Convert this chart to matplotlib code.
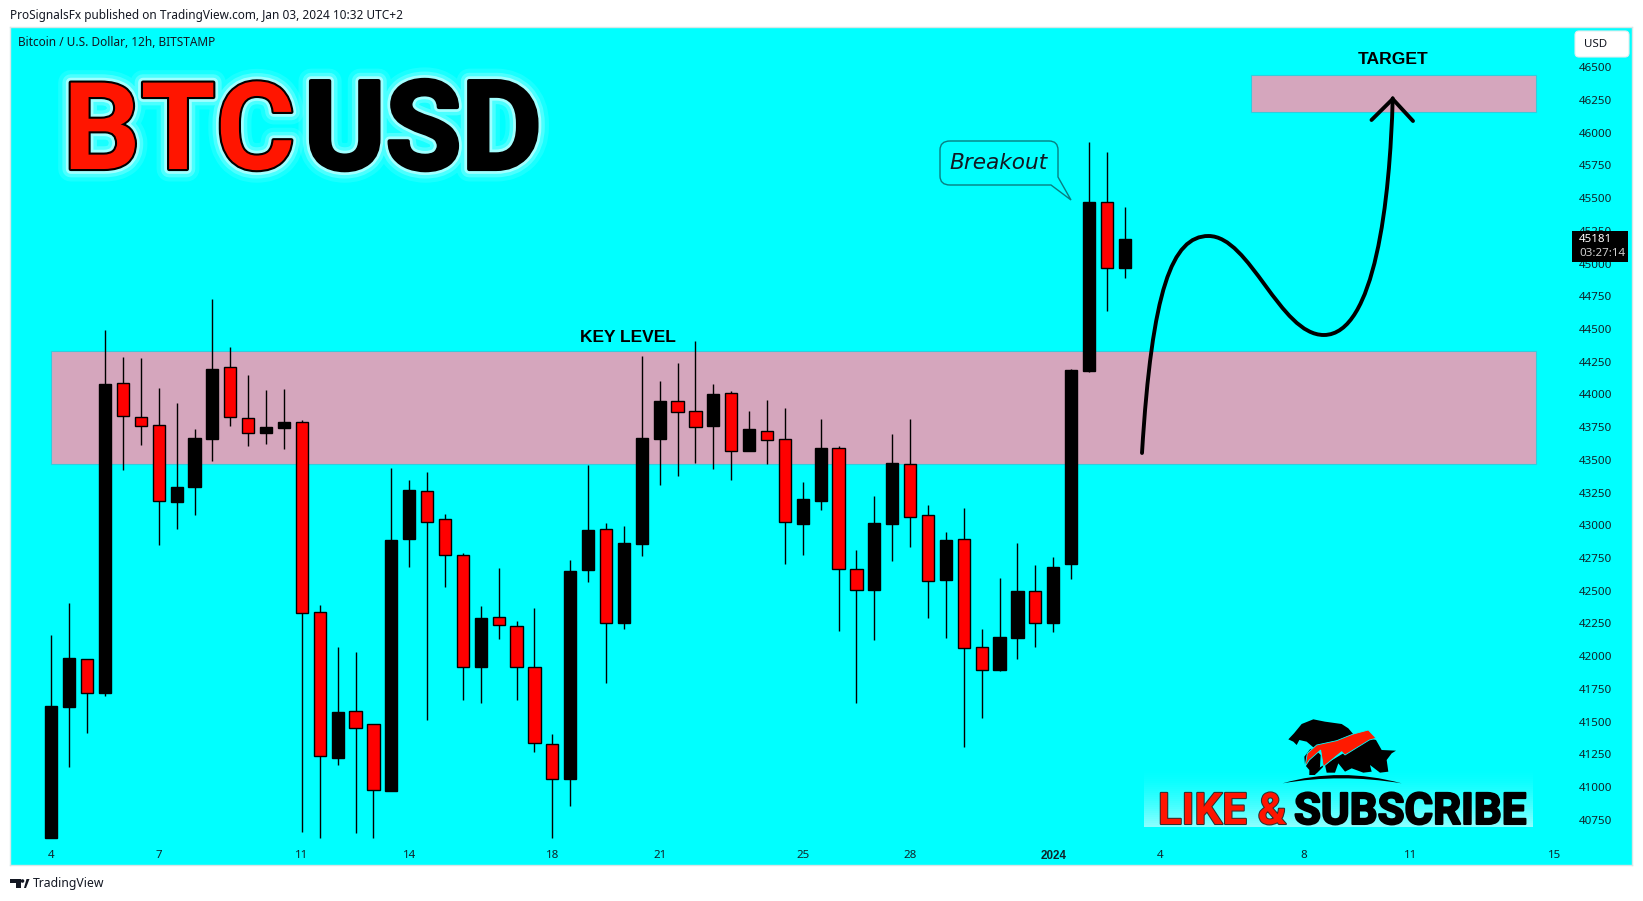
import matplotlib
matplotlib.use("Agg")
import matplotlib.pyplot as plt
import matplotlib.patheffects as pe
from matplotlib.patches import Rectangle, FancyBboxPatch, PathPatch, Polygon, Circle
from matplotlib.path import Path
from matplotlib.transforms import Affine2D, ScaledTranslation

W, H = 1643, 901

opens = [40608,41611,41973,41716,44081,43821,43759,43174,43287,43655,44203,43813,43703,43739,43782,42337,
         41221,41574,41475,40969,42894,43262,43041,42773,41916,42292,42224,41911,41328,41060,42657,42965,
         42253,42855,43655,43943,43867,43753,44005,43567,43720,43652,43007,43185,43584,42665,42504,43007,
         43462,43078,42580,42889,42063,41894,42137,42498,42253,42702,44177,45464,44965]
highs = [42157,42402,41973,44488,44282,44274,44045,43929,43731,44726,44358,44144,44030,44036,43801,42385,
         42066,42026,41475,43434,43341,43403,43081,42784,42380,42668,42264,42363,41402,42730,43457,43013,
         42990,44291,44098,44237,44404,44076,44022,43869,43954,43892,43327,43807,43601,42807,43219,43694,
         43807,43151,42948,43129,42202,42592,42860,42693,42753,44192,45925,45848,45428]
lows = [40608,41150,41410,41693,43420,43612,42849,42970,43078,43491,43756,43604,43621,43581,40656,40608,
        41167,40647,40608,40969,42679,41506,42527,41665,41639,42128,41665,41266,40608,40853,42566,41795,
        42205,42764,43307,43375,43474,43428,43344,43567,43468,42702,42773,43115,42190,41639,42122,42725,
        42832,42289,42137,41303,41526,41885,41976,42069,42182,42589,44166,44636,44888]
closes = [41614,41981,41718,44076,43833,43756,43185,43287,43663,44189,43827,43703,43748,43785,42329,41235,
          41568,41450,40975,42883,43264,43024,42773,41916,42286,42236,41916,41334,41060,42645,42959,42253,
          42860,43663,43946,43864,43751,44000,43567,43731,43649,43024,43197,43587,42665,42504,43013,43471,
          43061,42572,42883,42060,41888,42142,42493,42253,42677,44183,45466,44965,45184]

price_ticks = [40750,41000,41250,41500,41750,42000,42250,42500,42750,43000,43250,43500,43750,44000,44250,
               44500,44750,45000,45250,45500,45750,46000,46250,46500]
date_positions = [0,6,14,20,28,34,42,48,56,62,70,76,84]
date_labels = ["4","7","11","14","18","21","25","28","2024","4","8","11","15"]

key_zone = (0.0, 83.0, 43466, 44325)
target_zone = (67.04, 83.0, 46154, 46439)
last_price = 45181
countdown = "03:27:14"

CYAN = "#00ffff"
ZONE = "#d5a6bd"
RED = "#ff0000"
FONT = "Noto Sans"
BOLD = "Liberation Sans"

fig = plt.figure(figsize=(W/100, H/100), dpi=100, facecolor="white")
ax = fig.add_axes([10/W, 1-865/H, (1632-10)/W, (865-27)/H], facecolor=CYAN)
DX = 17.89
ax.set_xlim((10-51.4)/DX, (1632-51.4)/DX)
ax.set_ylim(46500-(865-66.7)*7.64, 46500+(66.7-27)*7.64)
for s in ax.spines.values():
    s.set_color("#d9e6e6"); s.set_linewidth(1)

PX = Affine2D().scale(1/W, -1/H).translate(0, 1) + fig.transFigure

for x0, x1, y0, y1 in (key_zone, target_zone):
    ax.add_patch(Rectangle((x0, y0), x1-x0, y1-y0, fc=ZONE, ec="#33ccdd", lw=0.8, zorder=1))

xs = list(range(len(opens)))
cols = ["black" if c >= o else RED for o, c in zip(opens, closes)]
ax.vlines(xs, lows, highs, color="black", lw=1.0, zorder=2)
ax.bar(xs, [abs(c-o) for o, c in zip(opens, closes)], bottom=[min(o, c) for o, c in zip(opens, closes)],
       width=0.68, color=cols, edgecolor="black", linewidth=1.0, zorder=3)

ax.yaxis.tick_right()
ax.set_yticks(price_ticks)
ax.set_yticklabels([str(p) for p in price_ticks], fontfamily=FONT, fontsize=8.3, color="#10242a")
ax.tick_params(axis="y", length=0, pad=-38)
shift = ScaledTranslation(0, -0.5/100, fig.dpi_scale_trans)
for t in ax.get_yticklabels():
    t.set_transform(t.get_transform() + shift)
ax.set_xticks(date_positions)
ax.set_xticklabels(date_labels, fontfamily=FONT, fontsize=8.3, color="#10242a")
ax.tick_params(axis="x", length=0, pad=-11)
for t in ax.get_xticklabels():
    if t.get_text() == "2024":
        t.set_fontfamily(BOLD); t.set_fontweight("bold"); t.set_fontsize(8.4)

def T(x, y, s, **kw):
    kw.setdefault("family", FONT)
    kw.setdefault("transform", PX)
    kw.setdefault("va", "center")
    kw.setdefault("clip_on", False)
    return fig.text(x, y, s, **kw)

T(10, 15, "ProSignalsFx published on TradingView.com, Jan 03, 2024 10:32 UTC+2", fontsize=8.5, color="#131722")
T(18, 42, "Bitcoin / U.S. Dollar, 12h, BITSTAMP", fontsize=8.5, color="#131722")
T(33, 884, "TradingView", fontsize=8.8, color="#131722")
DARK = "#131722"
fig.add_artist(Polygon([(10,879),(21,879),(21,888),(16,888),(16,883),(10,883)], closed=True, fc=DARK, ec="none", transform=PX))
fig.add_artist(Circle((22.5,881), 1.8, fc=DARK, ec="none", transform=PX))
fig.add_artist(Polygon([(24,888),(26,888),(29.5,879),(26.5,879)], closed=True, fc=DARK, ec="none", transform=PX))

glow = [pe.withStroke(linewidth=18, foreground="#ffffff", alpha=0.10),
        pe.withStroke(linewidth=12, foreground="#ffffff", alpha=0.22),
        pe.withStroke(linewidth=7, foreground="#e8ffff", alpha=0.55),
        pe.withStroke(linewidth=3, foreground="black")]
T(63, 169, "BTC", fontsize=87.5, family="Roboto", fontweight="bold", color="#ff1500", va="baseline", path_effects=glow)
T(304, 169, "USD", fontsize=89, family="Roboto", fontweight="bold", color="black", va="baseline", path_effects=glow)

T(628, 338, "KEY LEVEL", fontsize=12.5, family=BOLD, fontweight="bold", color="black", ha="center")
T(1393, 59.5, "TARGET", fontsize=12.6, family=BOLD, fontweight="bold", color="black", ha="center")

verts = [(950,141),(1049,141),(1058,141),(1058,150),(1058,177),(1071,200),(1051,185),
         (950,185),(940,185),(940,176),(940,150),(940,141),(950,141)]
codes = [Path.MOVETO,Path.LINETO,Path.CURVE3,Path.CURVE3,Path.LINETO,Path.LINETO,Path.LINETO,
         Path.LINETO,Path.CURVE3,Path.CURVE3,Path.LINETO,Path.CURVE3,Path.CURVE3]
fig.add_artist(PathPatch(Path(verts, codes), fc="none", ec="#0a7d80", lw=1.0, transform=PX))
T(998.5, 163, "Breakout", fontsize=15.6, style="italic", family="DejaVu Sans", color="#131722", ha="center")

curve = [(1142,453),(1152,290),(1172,236),(1208.5,236),(1250,236),(1280,335),(1323.8,335),(1375,335),(1390,200),(1392.7,98.3)]
ccodes = [Path.MOVETO]+[Path.CURVE4]*9
fig.add_artist(PathPatch(Path(curve, ccodes), fc="none", ec="black", lw=2.8, capstyle="round", transform=PX))
head = [(1371.5,120),(1392.7,99),(1413,121)]
fig.add_artist(PathPatch(Path(head), fc="none", ec="black", lw=2.8, capstyle="round", joinstyle="miter", transform=PX))

fig.add_artist(FancyBboxPatch((1578,34), 48, 20, boxstyle="round,pad=3,rounding_size=4", fc="white", ec="#e4eeee", lw=0.8, transform=PX))
T(1584, 44.5, "USD", fontsize=8.3, color="#131722")
fig.add_artist(Rectangle((1571.5,231), 56, 31, fc="black", ec="none", transform=PX, zorder=5))
T(1579, 240, str(last_price), fontsize=8.3, color="white", zorder=6)
T(1579, 254, countdown, fontsize=8.3, color="#cfcfcf", zorder=6)

n = 30
for i in range(n):
    a = (i/(n-1))**1.6*0.55
    fig.add_artist(Rectangle((1144, 767+i*2), 389, 2, fc="white", ec="none", alpha=a, transform=PX))

def Z(pts):
    return [(1270+x/3, 710+y/3) for x, y in pts]

bear = [(55,88),(72,70),(95,42),(130,28),(165,35),(215,42),(235,55),(252,75),(200,100),(140,112),(120,118),(103,140),(105,165),(118,180),
        (118,195),(135,195),(150,172),(152,135),(130,112),(110,95),(88,90),(80,105),(70,95)]
bull = [(118,195),(150,172),(220,130),(300,85),(318,90),(335,120),(378,122),(365,130),(350,150),(355,185),(330,188),(300,165),
        (305,185),(280,188),(245,175),(225,185),(205,160),(195,188),(170,188),(165,165),(140,190)]
bolt = [(105,170),(112,130),(140,105),(200,92),(250,72),(295,60),(312,78),(318,85),(298,90),(225,135),(215,125),(160,170),(152,120),(118,150)]
fig.add_artist(Polygon(Z(bear), closed=True, fc="black", ec="none", transform=PX))
fig.add_artist(Polygon(Z(bull), closed=True, fc="black", ec="none", transform=PX))
fig.add_artist(Polygon(Z(bolt), closed=True, fc="#ff1a00", ec=CYAN, lw=0.6, transform=PX))
arc = [(38,220),(210,170),(395,220),(210,190),(38,220)]
fig.add_artist(PathPatch(Path(Z(arc), [Path.MOVETO,Path.CURVE3,Path.CURVE3,Path.CURVE3,Path.CURVE3]), fc="black", ec="none", transform=PX))

T(1158, 824, "LIKE &", fontsize=31.5, family="Roboto", fontweight="bold", color="#ff1500", va="baseline",
  path_effects=[pe.withStroke(linewidth=1.5, foreground="#303030")])
T(1294, 824, "SUBSCRIBE", fontsize=31.5, family="Roboto", fontweight="bold", color="black", va="baseline",
  path_effects=[pe.withStroke(linewidth=1.5, foreground="black")])

fig.savefig("out.png", dpi=100, facecolor="white")
